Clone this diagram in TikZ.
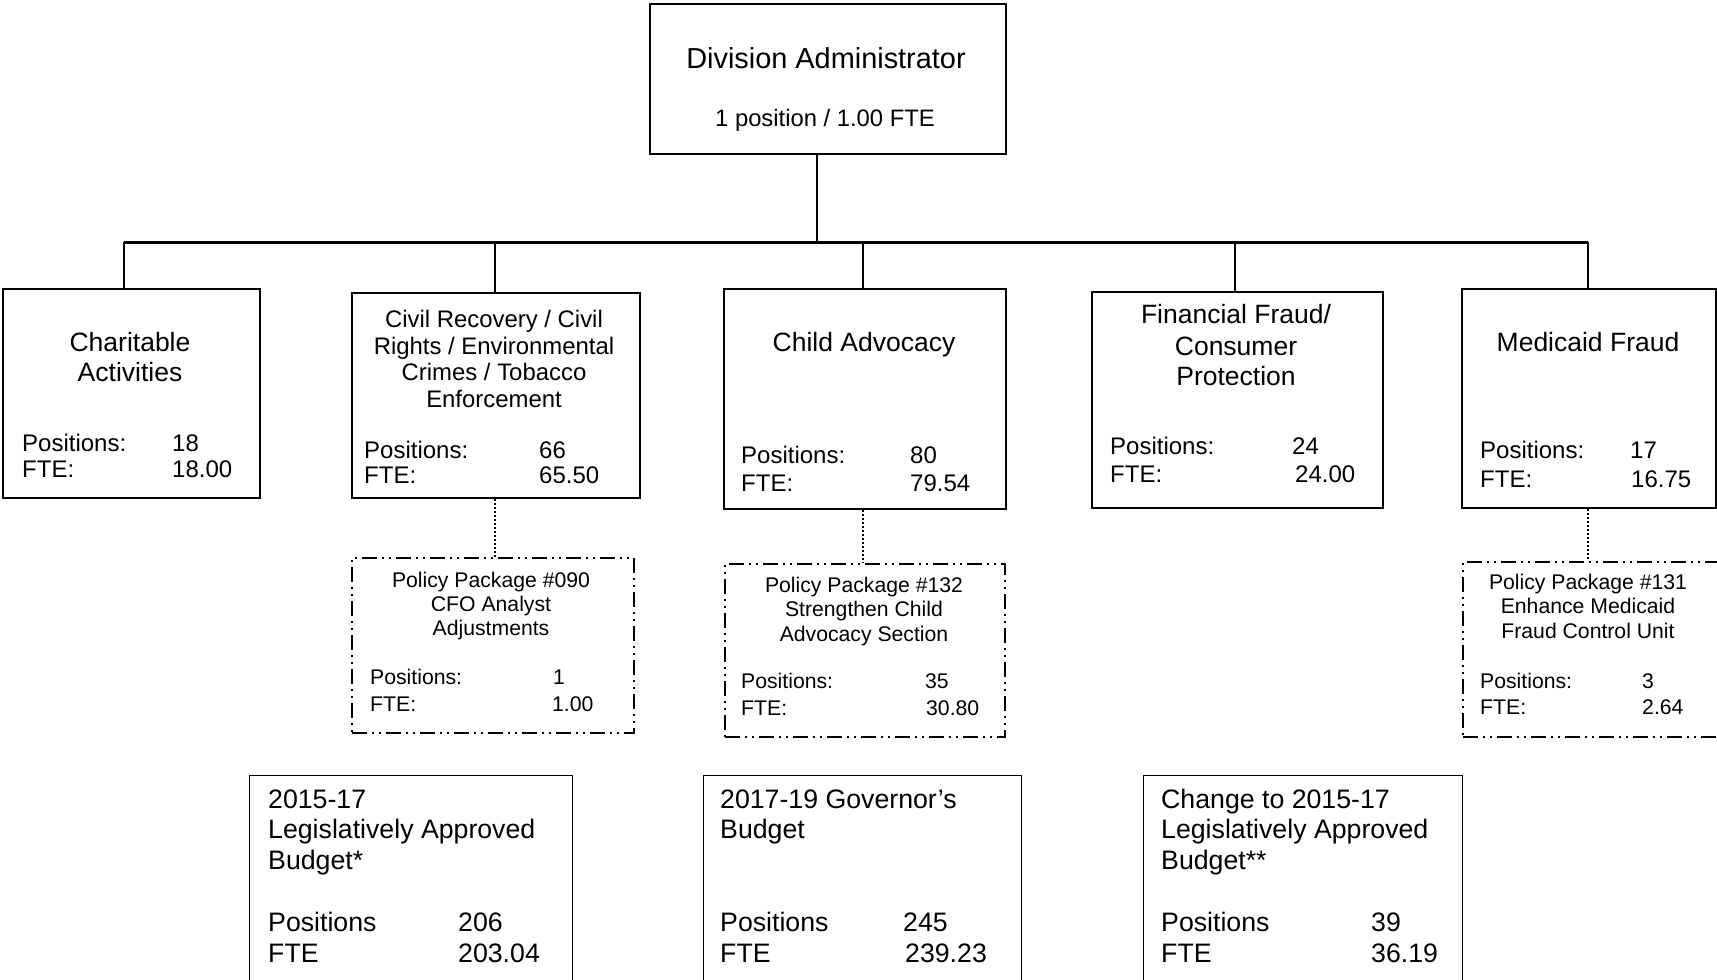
\documentclass[tikz,border=0pt]{standalone}
\usepackage{fontspec}
\setmainfont{Liberation Sans}
\begin{document}
\begin{tikzpicture}[x=1pt,y=-1pt,
  unit/.style={draw=black, line width=2pt, rectangle, inner sep=0pt, anchor=north west},
  pkg/.style={draw=black, line width=1.5pt, rectangle, inner sep=0pt, anchor=north west,
              dash pattern=on 15pt off 5pt on 2pt off 5pt on 2pt off 5pt},
  sumbox/.style={draw=black, line width=1.3pt, rectangle, inner sep=0pt, anchor=north west},
  link/.style={line width=2pt},
  bus/.style={line width=3pt},
  pkglink/.style={line width=1.5pt, dash pattern=on 1.5pt off 2.5pt},
  ctr/.style={inner sep=0pt, anchor=base},
  lft/.style={inner sep=0pt, anchor=base west},
  fhead/.style={font=\fontsize{28.9pt}{31pt}\selectfont},
  fsub/.style={font=\fontsize{23.8pt}{26pt}\selectfont},
  ftitle/.style={font=\fontsize{26.5pt}{29pt}\selectfont},
  fsmall/.style={font=\fontsize{23.9pt}{26pt}\selectfont},
  fpos/.style={font=\fontsize{24pt}{26pt}\selectfont},
  fpkg/.style={font=\fontsize{21.2pt}{24pt}\selectfont},
  fsum/.style={font=\fontsize{26.7pt}{29pt}\selectfont}]
\useasboundingbox (0,0) rectangle (1717,980);

% Division administrator
\node[unit, minimum width=356pt, minimum height=150pt] (admin) at (649,3) {};
\node[ctr, fhead] (adminT) at (826,68) {Division Administrator};
\node[ctr, fsub] (adminN) at (825,126) {1 position / 1.00 FTE};

% Sections
\node[unit, minimum width=257pt, minimum height=209pt] (charit) at (2,288) {};
\node[ctr, ftitle] (charitT1) at (130,351) {Charitable};
\node[ctr, ftitle] (charitT2) at (130,381) {Activities};
\node[lft, fpos] (charitP) at (22,451) {Positions:};
\node[lft, fpos] (charitPn) at (172,451) {18};
\node[lft, fpos] (charitF) at (22,477) {FTE:};
\node[lft, fpos] (charitFn) at (172,477) {18.00};

\node[unit, minimum width=288pt, minimum height=205pt] (civil) at (351,292) {};
\node[ctr, fsmall] (civilT1) at (494,327) {Civil Recovery / Civil};
\node[ctr, fsmall] (civilT2) at (494,354) {Rights / Environmental};
\node[ctr, fsmall] (civilT3) at (494,380) {Crimes / Tobacco};
\node[ctr, fsmall] (civilT4) at (494,407) {Enforcement};
\node[lft, fpos] (civilP) at (364,458) {Positions:};
\node[lft, fpos] (civilPn) at (539,458) {66};
\node[lft, fpos] (civilF) at (364,483) {FTE:};
\node[lft, fpos] (civilFn) at (539,483) {65.50};

\node[unit, minimum width=282pt, minimum height=220pt] (child) at (723,288) {};
\node[ctr, ftitle] (childT) at (864,351) {Child Advocacy};
\node[lft, fpos] (childP) at (741,463) {Positions:};
\node[lft, fpos] (childPn) at (910,463) {80};
\node[lft, fpos] (childF) at (741,491) {FTE:};
\node[lft, fpos] (childFn) at (910,491) {79.54};

\node[unit, minimum width=291pt, minimum height=216pt] (fin) at (1091,291) {};
\node[ctr, ftitle] (finT1) at (1236,323) {Financial Fraud/};
\node[ctr, ftitle] (finT2) at (1236,355) {Consumer};
\node[ctr, ftitle] (finT3) at (1236,385) {Protection};
\node[lft, fpos] (finP) at (1110,454) {Positions:};
\node[lft, fpos] (finPn) at (1292,454) {24};
\node[lft, fpos] (finF) at (1110,482) {FTE:};
\node[lft, fpos] (finFn) at (1295,482) {24.00};

\node[unit, minimum width=254pt, minimum height=219pt] (medic) at (1461,288) {};
\node[ctr, ftitle] (medicT) at (1588,351) {Medicaid Fraud};
\node[lft, fpos] (medicP) at (1480,458) {Positions:};
\node[lft, fpos] (medicPn) at (1630,458) {17};
\node[lft, fpos] (medicF) at (1480,487) {FTE:};
\node[lft, fpos] (medicFn) at (1631,487) {16.75};

% Policy packages
\node[pkg, minimum width=282pt, minimum height=175pt] (p090) at (351,557) {};
\node[ctr, fpkg] (p090T1) at (491,587) {Policy Package \#090};
\node[ctr, fpkg] (p090T2) at (491,611) {CFO Analyst};
\node[ctr, fpkg] (p090T3) at (491,635) {Adjustments};
\node[lft, fpkg] (p090P) at (370,684) {Positions:};
\node[lft, fpkg] (p090Pn) at (553,684) {1};
\node[lft, fpkg] (p090F) at (370,711) {FTE:};
\node[lft, fpkg] (p090Fn) at (552,711) {1.00};

\node[pkg, minimum width=280pt, minimum height=173pt] (p132) at (724,563) {};
\node[ctr, fpkg] (p132T1) at (864,592) {Policy Package \#132};
\node[ctr, fpkg] (p132T2) at (864,616) {Strengthen Child};
\node[ctr, fpkg] (p132T3) at (864,641) {Advocacy Section};
\node[lft, fpkg] (p132P) at (741,688) {Positions:};
\node[lft, fpkg] (p132Pn) at (925,688) {35};
\node[lft, fpkg] (p132F) at (741,715) {FTE:};
\node[lft, fpkg] (p132Fn) at (926,715) {30.80};

\node[pkg, minimum width=262pt, minimum height=175pt] (p131) at (1462,561) {};
\node[ctr, fpkg] (p131T1) at (1588,589) {Policy Package \#131};
\node[ctr, fpkg] (p131T2) at (1588,613) {Enhance Medicaid};
\node[ctr, fpkg] (p131T3) at (1588,638) {Fraud Control Unit};
\node[lft, fpkg] (p131P) at (1480,688) {Positions:};
\node[lft, fpkg] (p131Pn) at (1642,688) {3};
\node[lft, fpkg] (p131F) at (1480,714) {FTE:};
\node[lft, fpkg] (p131Fn) at (1642,714) {2.64};

% Budget summaries
\node[sumbox, minimum width=323pt, minimum height=215pt] (lab) at (249,775) {};
\node[lft, fsum] (labT1) at (268,808) {2015-17};
\node[lft, fsum] (labT2) at (268,838) {Legislatively Approved};
\node[lft, fsum] (labT3) at (268,869) {Budget*};
\node[lft, fsum] (labP) at (268,931) {Positions};
\node[lft, fsum] (labPn) at (458,931) {206};
\node[lft, fsum] (labF) at (268,962) {FTE};
\node[lft, fsum] (labFn) at (458,962) {203.04};

\node[sumbox, minimum width=318pt, minimum height=215pt] (gov) at (703,775) {};
\node[lft, fsum] (govT1) at (720,808) {2017-19 Governor’s};
\node[lft, fsum] (govT2) at (720,838) {Budget};
\node[lft, fsum] (govP) at (720,931) {Positions};
\node[lft, fsum] (govPn) at (903,931) {245};
\node[lft, fsum] (govF) at (720,962) {FTE};
\node[lft, fsum] (govFn) at (905,962) {239.23};

\node[sumbox, minimum width=319pt, minimum height=215pt] (chg) at (1143,775) {};
\node[lft, fsum] (chgT1) at (1161,808) {Change to 2015-17};
\node[lft, fsum] (chgT2) at (1161,838) {Legislatively Approved};
\node[lft, fsum] (chgT3) at (1161,869) {Budget**};
\node[lft, fsum] (chgP) at (1161,931) {Positions};
\node[lft, fsum] (chgPn) at (1371,931) {39};
\node[lft, fsum] (chgF) at (1161,962) {FTE};
\node[lft, fsum] (chgFn) at (1371,962) {36.19};

% Reporting lines
\coordinate (hub) at (817,242);
\coordinate (j1) at (124,242);
\coordinate (j2) at (495,242);
\coordinate (j3) at (863,242);
\coordinate (j4) at (1235,242);
\coordinate (j5) at (1588,242);
\draw[link] (hub |- admin.south) -- (hub);
\draw[bus] (j1) -- (j5);
\draw[link] (j1) -- (j1 |- charit.north);
\draw[link] (j2) -- (j2 |- civil.north);
\draw[link] (j3) -- (j3 |- child.north);
\draw[link] (j4) -- (j4 |- fin.north);
\draw[link] (j5) -- (j5 |- medic.north);

% Links to policy packages
\draw[pkglink] (j2 |- civil.south) -- (j2 |- p090.north);
\draw[pkglink] (j3 |- child.south) -- (j3 |- p132.north);
\draw[pkglink] (j5 |- medic.south) -- (j5 |- p131.north);
\end{tikzpicture}
\end{document}
